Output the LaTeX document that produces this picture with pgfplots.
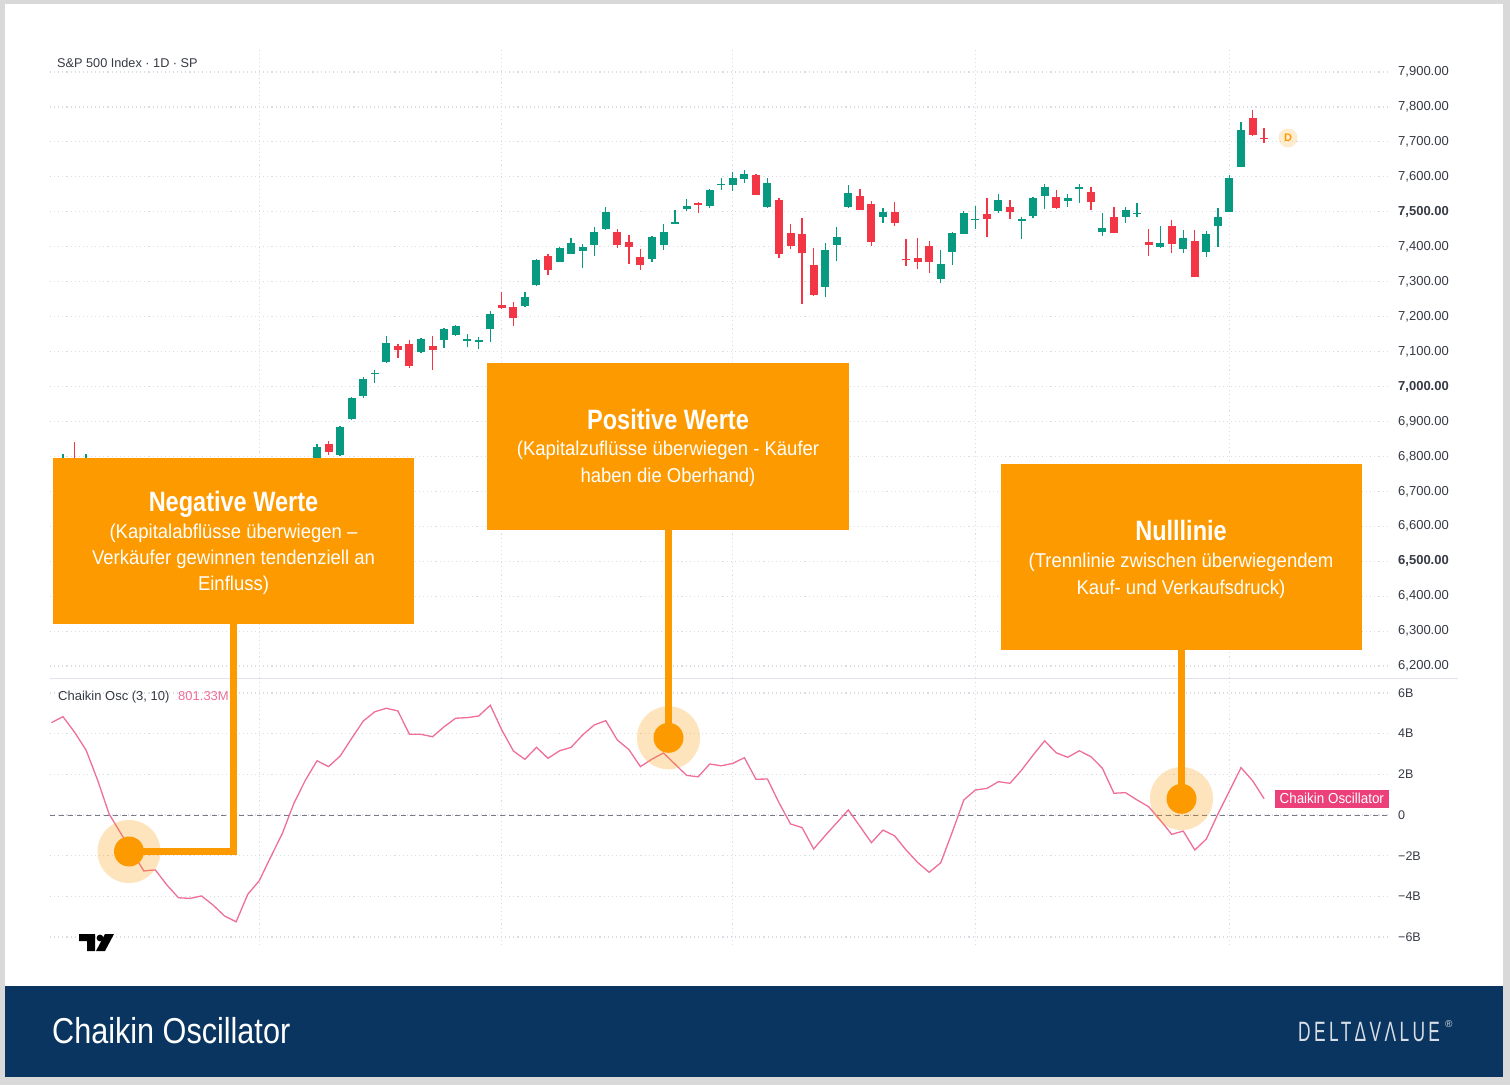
\documentclass[border=0pt]{standalone}
\usepackage{pgfplots}
\usepackage{pgfplotstable}
\pgfplotsset{compat=1.18}
\usepackage{fontspec}
\setmainfont{Liberation Sans}
\newfontfamily\tvfont{Liberation Sans}
\newfontfamily\condT[FakeStretch=0.84]{Liberation Sans}
\newfontfamily\condS[FakeStretch=0.925]{Liberation Sans}
\newfontfamily\condF[FakeStretch=0.85]{Liberation Sans}
\newfontfamily\logofont[FakeStretch=0.62,LetterSpace=12]{Liberation Sans}

\definecolor{tvgreen}{HTML}{089981}
\definecolor{tvred}{HTML}{F23645}
\definecolor{oscpink}{HTML}{EF6F98}
\definecolor{pinklabel}{HTML}{EC407A}
\definecolor{orangeC}{HTML}{FD9A00}
\definecolor{navy}{HTML}{0A3561}
\definecolor{bordergray}{HTML}{D9D9D9}
\definecolor{gridc}{HTML}{DADDE3}
\definecolor{sepc}{HTML}{E0E3EB}
\definecolor{tvtext}{HTML}{363A45}
\definecolor{zeroc}{HTML}{787B86}
\definecolor{logoc}{HTML}{D8DEE6}

\pgfplotstableread{
i O H L C
1 6770 6808 6750 6792
3 6770 6807 6750 6790
23 6784 6835 6761 6827
25 6804 6886 6800 6884
26 6907 6970 6904 6967
27 6973 7027 6967 7021
28 7035 7047 7010 7039
29 7070 7144 7068 7124
32 7099 7139 7096 7136
34 7133 7167 7110 7164
35 7147 7176 7144 7173
36 7130 7150 7113 7136
37 7127 7142 7107 7133
38 7164 7216 7127 7207
41 7230 7270 7227 7256
42 7290 7366 7289 7363
44 7356 7399 7355 7396
45 7379 7425 7378 7411
46 7388 7408 7339 7399
47 7405 7456 7373 7442
48 7451 7514 7449 7499
52 7365 7431 7356 7428
53 7405 7465 7391 7442
54 7465 7505 7464 7471
55 7508 7537 7502 7516
57 7516 7565 7511 7562
58 7577 7597 7562 7580
59 7577 7614 7559 7597
60 7594 7620 7582 7608
62 7514 7597 7512 7582
67 7285 7411 7256 7391
68 7405 7456 7359 7428
69 7514 7577 7512 7554
72 7485 7511 7468 7499
77 7308 7391 7296 7350
78 7385 7442 7348 7439
79 7436 7502 7435 7496
80 7476 7516 7451 7479
82 7502 7551 7496 7534
84 7474 7485 7422 7479
85 7488 7542 7482 7539
86 7545 7580 7508 7571
88 7531 7551 7514 7539
89 7565 7580 7525 7571
91 7442 7496 7431 7454
93 7485 7514 7468 7505
94 7494 7525 7485 7496
96 7399 7459 7396 7411
98 7393 7448 7382 7425
100 7385 7445 7371 7436
101 7459 7511 7399 7485
102 7499 7605 7498 7597
103 7628 7757 7627 7734
}\greendata

\pgfplotstableread{
i O H L C
2 6790 6842 6760 6770
24 6835 6844 6804 6812
30 7116 7122 7081 7104
31 7122 7133 7053 7059
33 7116 7144 7047 7104
39 7233 7270 7223 7225
40 7227 7242 7173 7196
43 7373 7379 7319 7333
49 7442 7451 7396 7405
50 7413 7434 7350 7399
51 7371 7393 7333 7348
56 7525 7528 7496 7519
61 7605 7607 7547 7548
63 7534 7539 7368 7379
64 7439 7465 7393 7402
65 7436 7482 7236 7382
66 7348 7396 7260 7262
70 7545 7565 7504 7505
71 7522 7531 7402 7413
73 7499 7528 7459 7468
74 7365 7422 7345 7361
75 7368 7426 7336 7356
76 7402 7416 7325 7356
81 7494 7539 7428 7479
83 7514 7534 7479 7499
87 7542 7562 7509 7511
90 7557 7571 7505 7528
92 7485 7514 7438 7439
95 7413 7451 7373 7405
97 7459 7476 7382 7408
99 7416 7448 7312 7313
104 7768 7791 7718 7720
105 7711 7740 7697 7708
}\reddata

\pgfplotstableread{
i v
0 4.54
1 4.84
2 4.08
3 3.2
4 1.72
5 0.05
6 -0.89
7 -1.82
8 -2.75
9 -2.7
10 -3.44
11 -4.07
12 -4.1
13 -3.98
14 -4.43
15 -4.97
16 -5.25
17 -3.9
18 -3.23
19 -2.05
20 -0.9
21 0.58
22 1.72
23 2.67
24 2.38
25 2.9
26 3.77
27 4.62
28 5.08
29 5.25
30 5.12
31 3.97
32 3.97
33 3.85
34 4.34
35 4.76
36 4.79
37 4.87
38 5.4
39 4.18
40 3.15
41 2.74
42 3.33
43 2.79
44 3.16
45 3.33
46 3.94
47 4.43
48 4.64
49 3.69
50 3.22
51 2.38
52 2.75
53 3.05
54 2.5
55 1.95
56 1.88
57 2.51
58 2.42
59 2.54
60 2.82
61 1.76
62 1.77
63 0.6
64 -0.44
65 -0.62
66 -1.67
67 -1.01
68 -0.38
69 0.25
70 -0.55
71 -1.36
72 -0.74
73 -1.02
74 -1.72
75 -2.33
76 -2.82
77 -2.35
78 -0.84
79 0.74
80 1.23
81 1.31
82 1.64
83 1.56
84 2.21
85 2.95
86 3.65
87 3.06
88 2.84
89 3.16
90 2.87
91 2.3
92 1.07
93 1.1
94 0.74
95 0.41
96 -0.25
97 -0.95
98 -0.79
99 -1.72
100 -1.18
101 0.05
102 1.18
103 2.33
104 1.69
105 0.80
}\oscdata

\pgfplotsset{
  tvaxis/.style={
    scale only axis, width=1340pt, anchor=north west,
    xmin=-0.12, xmax=115.9,
    axis line style={draw=none}, tick style={draw=none}, major tick length=0pt,
    xtick={18,39,59,80,102}, xticklabels={},
    xmajorgrids, ymajorgrids,
    grid style={dash pattern=on 1.1pt off 3pt, line width=1.1pt, color=gridc},
    yticklabel pos=right,
    yticklabel style={anchor=west, inner sep=0pt, xshift=8pt, text=tvtext},
    scaled y ticks=false,
  },
  wick/.style={forget plot, draw=none, mark=none,
    error bars/.cd, y dir=plus, y explicit, error mark=none,
    error bar style={draw=#1, line width=1.3pt}},
  body/.style={forget plot, draw=none, mark=none,
    error bars/.cd, y dir=plus, y explicit, error mark=none,
    error bar style={draw=#1, line width=8pt, line cap=butt}},
}

\begin{document}
\begin{tikzpicture}
\path[use as bounding box] (0pt,0pt) rectangle (1510pt,-1085pt);
\begin{scope}[x=1pt,y=-1pt]
  \fill[bordergray] (0,0) rectangle (1510,1085);
  \fill[white] (5,4) rectangle (1503,986);
  \fill[navy] (5,986) rectangle (1503,1077);
\end{scope}

% price panel
\begin{axis}[tvaxis, at={(50pt,-48pt)}, height=630pt,
  ymin=6165.7, ymax=7968.7,
  ytick={6200,6300,...,7900},
  yticklabels={{6,200.00},{6,300.00},{6,400.00},\textbf{6,500.00},{6,600.00},{6,700.00},{6,800.00},{6,900.00},\textbf{7,000.00},{7,100.00},{7,200.00},{7,300.00},{7,400.00},\textbf{7,500.00},{7,600.00},{7,700.00},{7,800.00},{7,900.00}},
  yticklabel style={font=\tvfont\fontsize{13}{13}\selectfont},
]
\addplot[wick=tvgreen] table[x=i, y=L, y error expr=\thisrow{H}-\thisrow{L}] {\greendata};
\addplot[body=tvgreen] table[x=i, y=O, y error expr=\thisrow{C}-\thisrow{O}] {\greendata};
\addplot[wick=tvred] table[x=i, y=L, y error expr=\thisrow{H}-\thisrow{L}] {\reddata};
\addplot[body=tvred] table[x=i, y=C, y error expr=\thisrow{O}-\thisrow{C}] {\reddata};
\end{axis}

% oscillator panel
\begin{axis}[tvaxis, at={(50pt,-678pt)}, height=267pt,
  ymin=-6.394, ymax=6.739,
  ytick={-6,-4,...,6},
  yticklabels={−6B,−4B,−2B,0,2B,4B,6B},
  yticklabel style={font=\tvfont\fontsize{12.5}{12.5}\selectfont},
]
\addplot[zeroc, line width=0.9pt, dash pattern=on 5pt off 4pt, forget plot] coordinates {(-0.12,0) (115.9,0)};
\addplot[oscpink, line width=1.3pt, mark=none] table[x=i, y=v] {\oscdata};
\end{axis}

\begin{scope}[x=1pt,y=-1pt]
  % separator
  \draw[sepc, line width=1pt] (50,678) -- (1458,678);
  % header text
  \node[anchor=base west, inner sep=0, text=tvtext, font=\tvfont\fontsize{12.7}{13}\selectfont] at (57,67.5) {S\&P 500 Index · 1D · SP};
  % D marker
  \fill[orangeC, opacity=0.18] (1288,138) circle (9.5);
  \node[text=orangeC, font=\tvfont\bfseries\fontsize{11}{11}\selectfont] at (1288,138) {D};
  % oscillator labels
  \node[anchor=base west, inner sep=0, text=tvtext, font=\tvfont\fontsize{13}{13}\selectfont] at (58,700.5) {Chaikin Osc (3, 10)};
  \node[anchor=base west, inner sep=0, text=oscpink, font=\tvfont\fontsize{13}{13}\selectfont] at (178,700.5) {801.33M};
  \fill[pinklabel] (1275,789.5) rectangle (1388.5,807.5);
  \node[text=white, font=\condS\fontsize{14.5}{14.5}\selectfont, inner sep=0] at (1331.8,798.5) {Chaikin Oscillator};
  % TV logo
  \fill[black] (79,934) -- (95,934) -- (95,951) -- (87,951) -- (87,941) -- (79,941) -- cycle;
  \fill[black] (100,938) circle (3.4);
  \fill[black] (105,934) -- (114,934) -- (105,951) -- (96,951) -- cycle;

  % annotation boxes
  \fill[orangeC] (53,458) rectangle (413.5,623.5);
  \fill[orangeC] (487,363) rectangle (848.5,529.5);
  \fill[orangeC] (1001,464) rectangle (1361.5,649.5);

  \begin{scope}[every node/.style={anchor=base, inner sep=0, text=white}]
    \node[font=\condT\bfseries\fontsize{28}{28}\selectfont] at (233.5,511.3) {Negative Werte};
    \node[font=\condS\fontsize{20}{20}\selectfont] at (233.5,538.7) {(Kapitalabflüsse überwiegen –};
    \node[font=\condS\fontsize{20}{20}\selectfont] at (233.5,564.7) {Verkäufer gewinnen tendenziell an};
    \node[font=\condS\fontsize{20}{20}\selectfont] at (233.5,590.7) {Einfluss)};

    \node[font=\condT\bfseries\fontsize{28}{28}\selectfont] at (668,429.7) {Positive Werte};
    \node[font=\condS\fontsize{20}{20}\selectfont] at (668,455.7) {(Kapitalzuflüsse überwiegen - Käufer};
    \node[font=\condS\fontsize{20}{20}\selectfont] at (668,482) {haben die Oberhand)};

    \node[font=\condT\bfseries\fontsize{28}{28}\selectfont] at (1181,540) {Nulllinie};
    \node[font=\condS\fontsize{20}{20}\selectfont] at (1181,567.3) {(Trennlinie zwischen überwiegendem};
    \node[font=\condS\fontsize{20}{20}\selectfont] at (1181,594) {Kauf- und Verkaufsdruck)};
  \end{scope}

  % connectors
  \draw[orangeC, line width=7pt, line join=miter, line cap=butt] (233.5,623) -- (233.5,851.5) -- (129,851.5);
  \draw[orangeC, line width=7pt, line cap=butt] (668,529) -- (668,738);
  \draw[orangeC, line width=7pt, line cap=butt] (1181,649) -- (1181,799);
  % halos and dots
  \fill[orangeC, opacity=0.26] (129,851.5) circle (31.5);
  \fill[orangeC, opacity=0.26] (668.5,737.8) circle (31.5);
  \fill[orangeC, opacity=0.26] (1181.5,798.5) circle (31.5);
  \fill[orangeC] (129,851.5) circle (15);
  \fill[orangeC] (668.5,737.8) circle (15);
  \fill[orangeC] (1181.5,798.8) circle (15);

  % footer
  \node[anchor=base west, inner sep=0, text=white, font=\condF\fontsize{36}{36}\selectfont] at (52,1043.5) {Chaikin Oscillator};
  \node[anchor=base west, inner sep=0, text=logoc, font=\logofont\fontsize{28}{28}\selectfont] at (1298,1041) {DELTΔVΛLUE};
  \node[anchor=base west, inner sep=0, text=logoc, font=\tvfont\fontsize{10}{10}\selectfont] at (1445,1027) {®};
\end{scope}
\end{tikzpicture}
\end{document}
